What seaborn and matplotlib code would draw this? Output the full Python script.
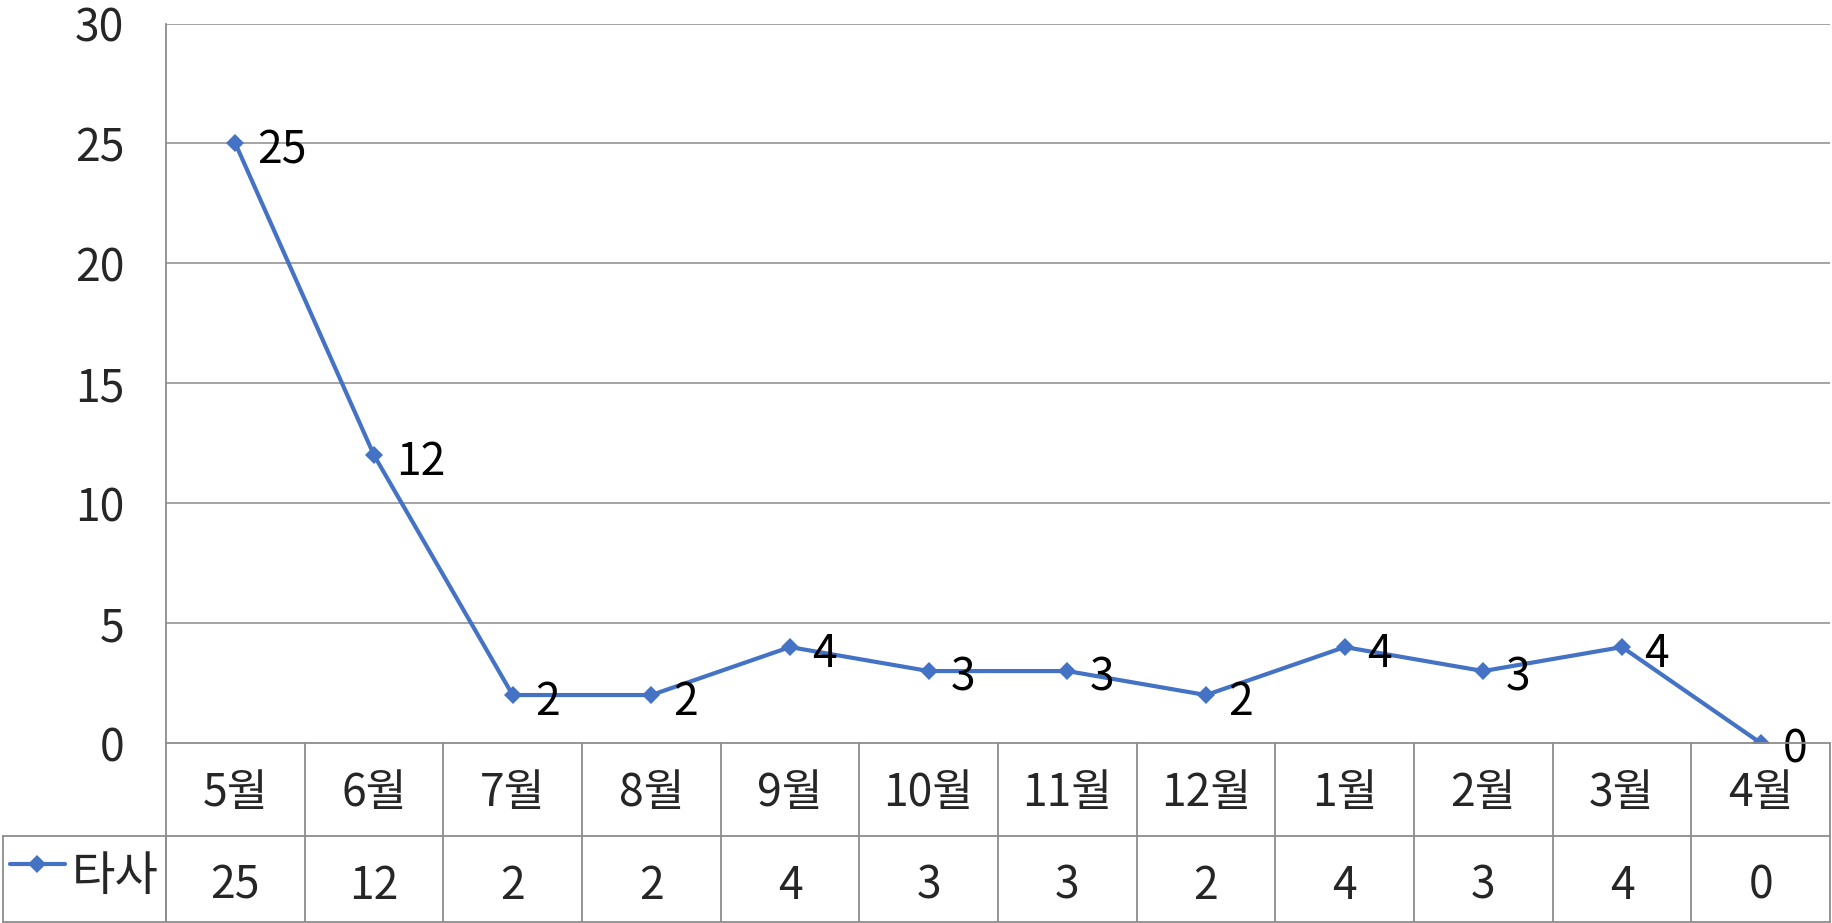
import matplotlib
matplotlib.use("Agg")
import matplotlib.pyplot as plt
import seaborn as sns
import pandas as pd
from matplotlib.lines import Line2D

months = ["5월", "6월", "7월", "8월", "9월", "10월", "11월", "12월", "1월", "2월", "3월", "4월"]
series_name = "타사"
values = [25, 12, 2, 2, 4, 3, 3, 2, 4, 3, 4, 0]
y_ticks = [0, 5, 10, 15, 20, 25, 30]

sns.set_theme(style="white")
plt.rcParams['font.family'] = ['Noto Sans CJK KR', 'DejaVu Sans']
plt.rcParams['font.weight'] = 'light'

W, H = 1832, 923
DPI = 100
BLUE = "#4472C4"
GRID = "#8c8c8c"
FS = 32

fig = plt.figure(figsize=(W / DPI, H / DPI), dpi=DPI)
fig.patch.set_facecolor("white")

def fx(px):
    return px / W

def fy(py):
    return 1 - py / H

left, right, top, bottom = 166, 1830, 23.5, 743
ax = fig.add_axes([fx(left), fy(bottom), fx(right - left), (bottom - top) / H])

df = pd.DataFrame({"x": range(len(months)), "v": values})
sns.lineplot(data=df, x="x", y="v", ax=ax, color=BLUE, lw=3.0, marker="D",
             markersize=9, markeredgewidth=0, zorder=3)

for i, v in enumerate(values):
    ax.annotate(str(v), (i, v), xytext=(16, -5), textcoords="offset points",
                ha="left", va="center", fontsize=FS, color="black", zorder=4,
                annotation_clip=False)

ax.set_xlim(-0.5, len(months) - 0.5)
ax.set_ylim(0, 30)
ax.set_yticks(y_ticks)
ax.set_yticklabels([str(t) for t in y_ticks], fontsize=FS)
ax.tick_params(axis="y", length=0, pad=30)
ax.set_xticks([])
ax.set_xlabel("")
ax.set_ylabel("")
for t in y_ticks[1:]:
    ax.axhline(t, color=GRID, lw=1.1, zorder=1)
for s in ["top", "right", "bottom"]:
    ax.spines[s].set_visible(False)
ax.spines["left"].set_color(GRID)
ax.spines["left"].set_linewidth(1.3)

# table axes
tb_top, row_mid, tb_bot = 743, 836, 922
tax = fig.add_axes([fx(left), fy(H), fx(right - left), (H - tb_top) / H])
tax.set_xlim(-0.5, len(months) - 0.5)
tax.set_ylim(H, tb_top)
tax.axis("off")
for b in range(len(months) + 1):
    tax.plot([b - 0.5, b - 0.5], [tb_top, tb_bot], color=GRID, lw=1.3, clip_on=False)
for yy in [tb_top, row_mid, tb_bot]:
    tax.plot([-0.5, len(months) - 0.5], [yy, yy], color=GRID, lw=1.3, clip_on=False)
for i, (m, v) in enumerate(zip(months, values)):
    tax.text(i, (tb_top + row_mid) / 2 + 4, m, ha="center", va="center", fontsize=FS)
    tax.text(i, (row_mid + tb_bot) / 2 + 7, str(v), ha="center", va="center", fontsize=FS)

# legend cell (left of table)
for (x0, y0, x1, y1) in [(3, row_mid, left, row_mid), (3, tb_bot, left, tb_bot),
                         (3, row_mid, 3, tb_bot), (left, row_mid, left, tb_bot)]:
    fig.add_artist(Line2D([fx(x0), fx(x1)], [fy(y0), fy(y1)], color=GRID, lw=1.3))
fig.add_artist(Line2D([fx(10), fx(65)], [fy(864), fy(864)], color=BLUE, lw=3.0))
fig.add_artist(Line2D([fx(37)], [fy(864)], color=BLUE, marker="D", markersize=9,
                      markeredgewidth=0, lw=0))
fig.text(fx(115), fy(877), series_name, ha="center", va="center", fontsize=FS + 2)

fig.savefig("out.png", dpi=DPI, facecolor="white")
